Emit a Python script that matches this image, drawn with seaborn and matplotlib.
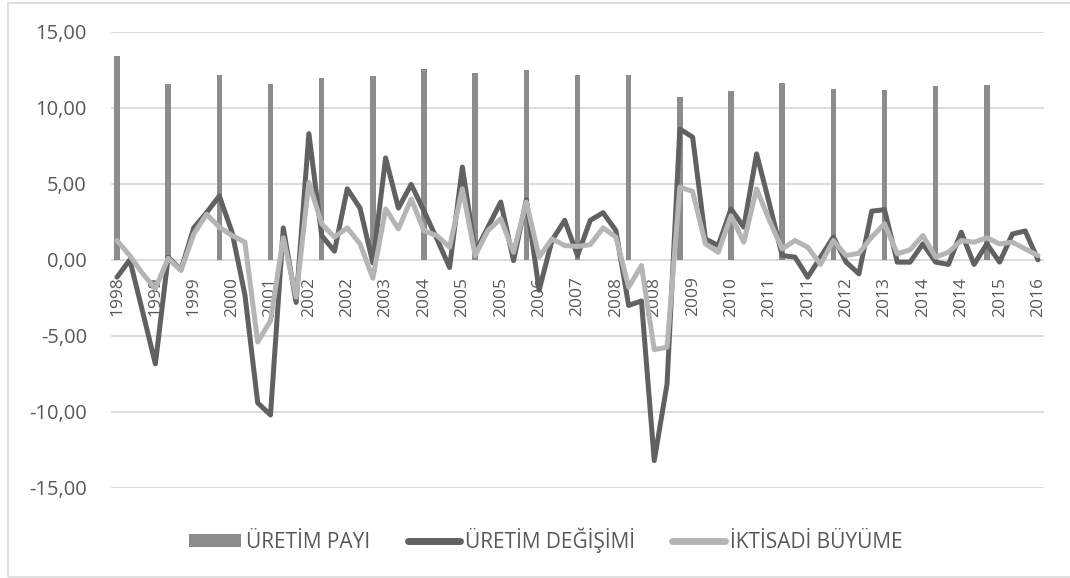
import matplotlib
matplotlib.use("Agg")
import matplotlib.pyplot as plt
import seaborn as sns
import numpy as np
import pandas as pd
from matplotlib.ticker import FuncFormatter, FixedLocator
from matplotlib.lines import Line2D
from matplotlib.patches import Patch, Rectangle

# ---------------- data ----------------
bar_years = [1998, 1999, 2000, 2001, 2002, 2003, 2004, 2005, 2006,
             2007, 2008, 2009, 2010, 2011, 2012, 2013, 2014, 2015]
uretim_payi = [13.42, 11.56, 12.15, 11.53, 11.95, 12.08, 12.54, 12.26, 12.45,
               12.15, 12.17, 10.70, 11.07, 11.60, 11.23, 11.16, 11.45, 11.49]

uretim_degisimi = [
    -1.14, 0.00, -3.40, -6.84, 0.18, -0.66, 2.10, 3.10, 4.20, 1.80,
    -2.30, -9.40, -10.20, 2.10, -2.80, 8.30, 1.60, 0.57, 4.67, 3.40,
    -0.20, 6.70, 3.40, 4.96, 3.20, 1.40, -0.50, 6.10, 0.50, 2.15,
    3.80, -0.05, 3.95, -2.00, 1.27, 2.60, 0.28, 2.60, 3.10, 1.93,
    -3.00, -2.70, -13.20, -8.16, 8.60, 8.07, 1.38, 0.94, 3.35, 2.15,
    6.97, 3.70, 0.28, 0.18, -1.14, 0.18, 1.50, -0.15, -0.92, 3.20,
    3.30, -0.15, -0.15, 1.05, -0.15, -0.30, 1.82, -0.30, 1.05, -0.15,
    1.70, 1.90, 0.00]

iktisadi_buyume = [
    1.27, 0.28, -0.90, -1.90, 0.10, -0.70, 1.70, 3.00, 2.15, 1.60,
    1.16, -5.40, -4.00, 1.45, -2.45, 5.10, 2.37, 1.50, 2.10, 1.05,
    -1.20, 3.35, 2.04, 4.00, 1.90, 1.60, 0.83, 4.67, 0.28, 1.93,
    2.70, 0.50, 3.80, 0.18, 1.38, 0.94, 0.88, 1.00, 2.10, 1.50,
    -1.80, -0.37, -5.90, -5.75, 4.78, 4.50, 1.05, 0.50, 2.90, 1.16,
    4.67, 2.60, 0.72, 1.27, 0.83, -0.30, 1.27, 0.28, 0.44, 1.50,
    2.37, 0.40, 0.66, 1.60, 0.18, 0.50, 1.27, 1.16, 1.45, 1.05,
    1.16, 0.72, 0.28]

tick_labels = ["1998", "1999", "1999", "2000", "2001", "2002", "2002", "2003",
               "2004", "2005", "2005", "2006", "2007", "2008", "2008", "2009",
               "2010", "2011", "2011", "2012", "2013", "2014", "2014", "2015",
               "2016"]

series_names = ["ÜRETİM PAYI", "ÜRETİM DEĞİŞİMİ", "İKTİSADİ BÜYÜME"]

# ---------------- style ----------------
BAR = "#8c8c8c"
DARK = "#616161"
LIGHT = "#b5b5b5"
TXT = "#595959"
GRID = "#d9d9d9"

sns.set_theme(style="white")
plt.rcParams["font.family"] = ["Open Sans", "DejaVu Sans"]

W, H = 1070, 578
fig = plt.figure(figsize=(W / 100, H / 100), dpi=100)
fig.patch.set_facecolor("white")
ax = fig.add_axes([110.6 / W, 1 - 488 / H, (1044.4 - 110.6) / W, (488 - 31.7) / H])

n = len(uretim_degisimi)
idx = np.arange(n)
bar_df = pd.DataFrame({"pos": [(y - bar_years[0]) * 4 for y in bar_years],
                       "val": uretim_payi})
line_df = pd.DataFrame({"pos": idx, "deg": uretim_degisimi, "buy": iktisadi_buyume})

sns.barplot(data=bar_df, x="pos", y="val", native_scale=True, width=0.108,
            color=BAR, saturation=1, linewidth=0, ax=ax, zorder=2)
sns.lineplot(data=line_df, x="pos", y="deg", color=DARK, linewidth=3.6,
             ax=ax, zorder=3, solid_joinstyle="round", solid_capstyle="round")
sns.lineplot(data=line_df, x="pos", y="buy", color=LIGHT, linewidth=3.6,
             ax=ax, zorder=4, solid_joinstyle="round", solid_capstyle="round")

ax.set_xlim(-0.5, n - 0.5)
ax.set_ylim(-15, 15)
ax.set_xlabel("")
ax.set_ylabel("")

ax.yaxis.set_major_locator(FixedLocator(np.arange(-15, 16, 5)))
ax.yaxis.set_major_formatter(FuncFormatter(lambda v, p: f"{v:.2f}".replace(".", ",")))
ax.xaxis.set_major_locator(FixedLocator(idx[::3]))
ax.set_xticklabels(tick_labels)

for s in ax.spines.values():
    s.set_visible(False)
ax.spines["bottom"].set_position(("data", 0))

ax.grid(axis="y", color=GRID, linewidth=1.3)
ax.grid(axis="x", visible=False)
ax.set_axisbelow(True)

ax.tick_params(axis="x", length=0, pad=12, labelsize=12.5, labelcolor=TXT, labelrotation=90)
ax.tick_params(axis="y", length=0, pad=17, labelsize=14.5, labelcolor=TXT)

handles = [Patch(facecolor=BAR, edgecolor="none"),
           Line2D([], [], color=DARK, linewidth=5, solid_capstyle="round"),
           Line2D([], [], color=LIGHT, linewidth=5, solid_capstyle="round")]
fig.legend(handles, series_names, loc="center",
           bbox_to_anchor=(545.5 / W, 1 - 540 / H), ncol=3, frameon=False,
           fontsize=15, handlelength=2.5, handleheight=0.6, handletextpad=0.25,
           columnspacing=1.8, labelcolor=TXT)

# chart border
fig.patches.append(Rectangle((7.6 / W, 1 - 576.7 / H), 1.05, (576.7 - 2.7) / H,
                             transform=fig.transFigure, fill=False,
                             edgecolor=GRID, linewidth=1.2))

fig.savefig("out.png", dpi=100)
